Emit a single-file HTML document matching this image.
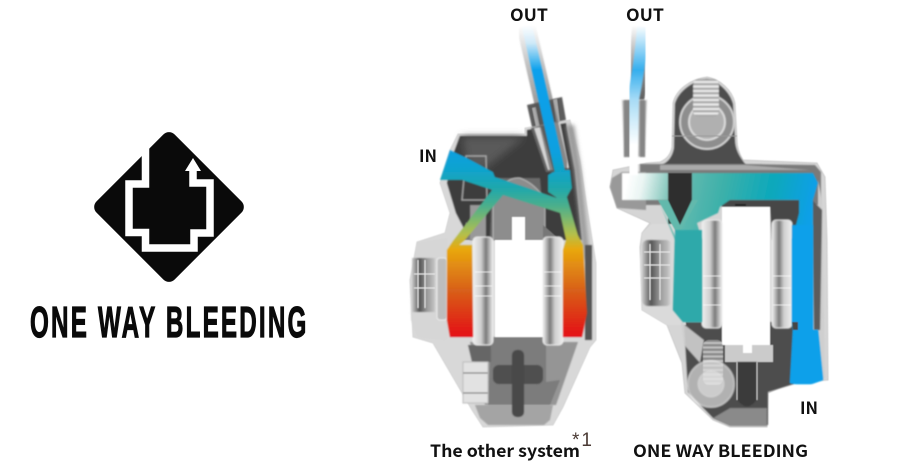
<!DOCTYPE html>
<html><head><meta charset="utf-8"><style>
html,body{margin:0;padding:0;background:#fff;width:900px;height:470px;overflow:hidden}
svg{display:block}
.l{font-family:"Noto Sans CJK KR","Liberation Sans",sans-serif;font-weight:700;fill:#111}
</style></head><body>
<svg width="900" height="470" viewBox="0 0 900 470" xmlns="http://www.w3.org/2000/svg">
<defs>
<filter id="b0" x="-5%" y="-5%" width="110%" height="110%"><feGaussianBlur stdDeviation="0.45"/></filter>
<filter id="b1" x="-20%" y="-20%" width="140%" height="140%"><feGaussianBlur stdDeviation="0.6"/></filter>
<filter id="b2" x="-30%" y="-30%" width="160%" height="160%"><feGaussianBlur stdDeviation="2"/></filter>
<filter id="b4" x="-30%" y="-30%" width="160%" height="160%"><feGaussianBlur stdDeviation="4"/></filter>
<linearGradient id="lc" gradientUnits="userSpaceOnUse" x1="0" y1="150" x2="0" y2="337">
<stop offset="0" stop-color="#0a9fe0"/><stop offset=".1" stop-color="#0fa3cf"/><stop offset=".2" stop-color="#1ea7ad"/><stop offset=".3" stop-color="#4caf8c"/><stop offset=".45" stop-color="#b4c04c"/><stop offset=".53" stop-color="#e8a80e"/><stop offset=".75" stop-color="#d8601a"/><stop offset="1" stop-color="#e40e12"/>
</linearGradient>
<linearGradient id="lt" gradientUnits="userSpaceOnUse" x1="0" y1="25" x2="0" y2="175">
<stop offset="0" stop-color="#fff"/><stop offset=".12" stop-color="#cfe9f8"/><stop offset=".3" stop-color="#0aa0ec"/><stop offset=".85" stop-color="#0aa0e0"/><stop offset="1" stop-color="#10a4c0"/>
</linearGradient>
<linearGradient id="rc" gradientUnits="userSpaceOnUse" x1="625" y1="190" x2="815" y2="230">
<stop offset="0" stop-color="#fff"/><stop offset=".08" stop-color="#eaf5f3"/><stop offset=".25" stop-color="#6cbcb0"/><stop offset=".5" stop-color="#3bb0aa"/><stop offset=".75" stop-color="#0aa8bc"/><stop offset=".95" stop-color="#0aa0e6"/><stop offset="1" stop-color="#0aa0ea"/>
</linearGradient>
<linearGradient id="rt" gradientUnits="userSpaceOnUse" x1="0" y1="25" x2="0" y2="175">
<stop offset="0" stop-color="#fff"/><stop offset=".3" stop-color="#35aeee"/><stop offset=".5" stop-color="#a8dcf6"/><stop offset=".8" stop-color="#fff"/><stop offset="1" stop-color="#fff"/>
</linearGradient>
<linearGradient id="shade" gradientUnits="userSpaceOnUse" x1="0" y1="25" x2="0" y2="105">
<stop offset="0" stop-color="#fff"/><stop offset=".5" stop-color="#999"/><stop offset="1" stop-color="#555"/>
</linearGradient>
<linearGradient id="pis" x1="0" y1="0" x2="1" y2="0">
<stop offset="0" stop-color="#eee"/><stop offset=".4" stop-color="#d0d0d0"/><stop offset=".65" stop-color="#7a7a7a"/><stop offset=".9" stop-color="#d0d0d0"/><stop offset="1" stop-color="#f0f0f0"/>
</linearGradient>
<linearGradient id="pis2" x1="1" y1="0" x2="0" y2="0">
<stop offset="0" stop-color="#eee"/><stop offset=".4" stop-color="#d0d0d0"/><stop offset=".65" stop-color="#7a7a7a"/><stop offset=".9" stop-color="#d0d0d0"/><stop offset="1" stop-color="#f0f0f0"/>
</linearGradient>
<linearGradient id="cyl" x1="0" y1="0" x2="1" y2="0">
<stop offset="0" stop-color="#ccc"/><stop offset=".3" stop-color="#555"/><stop offset=".6" stop-color="#999"/><stop offset=".85" stop-color="#bbb"/><stop offset="1" stop-color="#e0e0e0"/>
</linearGradient>
<pattern id="thr" width="6" height="4.5" patternUnits="userSpaceOnUse"><rect width="6" height="4.5" fill="#aaa"/><rect width="6" height="2" fill="#eee"/></pattern>
</defs>

<!-- Logo -->
<rect x="113.750" y="151.750" width="110.500" height="110.500" rx="8" transform="rotate(45 169 207)" fill="#0a0a0a"/>
<path d="M145.500 140V184H129V232.500H145.500V248H194V233H210V183H193V170" fill="none" stroke="#fff" stroke-width="7.500"/>
<path d="M193 158L201 171H185Z" fill="#fff"/>
<text transform="translate(30 337) scale(.55 1)" font-family="'Liberation Sans',sans-serif" font-weight="700" font-size="44" letter-spacing="4" fill="#0a0a0a" stroke="#0a0a0a" stroke-width="1.200">ONE WAY BLEEDING</text>

<!-- Left caliper -->
<g filter="url(#b0)">
<path d="M458 134H525V128L570 120L580 160L587 207L596 263V340L590 347L563 407L553 425L483 427L472 410L433 343L413 337L410 280L417 242L445 233L450 213L440 183L450 150Z" fill="#d8d8d8" stroke="#d5d5d5" stroke-width="1"/>
<path d="M460 136H527V130L566 123L575 170L582 240H470L456 213L447 183L454 152Z" fill="#3e3e3e" filter="url(#b1)"/>
<path d="M574 125L581 170L590 260L584 260L574 170L566 125Z" fill="#999" filter="url(#b2)"/>
<path d="M462 137H525L470 180Z" fill="#5a5a5a" filter="url(#b4)"/>
<path d="M466 156H486L487 200H462Z" fill="none" stroke="#aaa" stroke-width="1.500" filter="url(#b1)"/>
<path d="M492 178H540L545 238H490Z" fill="#6a6a6a" filter="url(#b1)"/>
<path d="M493 240V200Q505 176 520 178Q536 184 545 200V240" fill="#8d8d8d" stroke="#bbb" stroke-width="1" filter="url(#b1)"/>
<path d="M466 222L482 240H462ZM543 225L560 240H543Z" fill="#777"/>
<rect x="470" y="205" width="16" height="35" fill="#999" filter="url(#b1)"/>
<path d="M527 105L562 97L566 120L532 127Z" fill="#5c5c5c" filter="url(#b1)"/>
<path d="M532 108L536 127H540L536 107ZM553 100L556 122H560L557 99Z" fill="#aaa"/>
<path d="M531 128L546 172H570L559 122Z" fill="#666" filter="url(#b1)"/>
<path d="M534 128L548 170H553L541 127ZM553 123L563 168H569L560 122Z" fill="#d6d6d6" filter="url(#b1)"/>
<path d="M526 26L560 172" fill="none" stroke="url(#shade)" stroke-width="19" opacity=".6" filter="url(#b1)"/>
<path d="M527 26L560 172" fill="none" stroke="url(#lt)" stroke-width="10.500" filter="url(#b1)"/>

<!-- lower body -->
<path d="M433 338H590L563 405L553 424L484 426L472 410Z" fill="#d8d8d8"/>
<path d="M470 342H578L556 405H485Z" fill="#959595" filter="url(#b1)"/>
<path d="M491 337H546V382L560 380L550 405H488Z" fill="#7c7c7c" filter="url(#b1)"/>
<path d="M468 345H491V362H472Z" fill="#666" filter="url(#b1)"/>
<path d="M475 405H553L550 420L544 425H488L480 418Z" fill="#a4a4a4" filter="url(#b1)"/>
<rect x="493" y="365" width="50" height="19" rx="6" fill="#4f4f4f" filter="url(#b1)"/>
<rect x="512" y="350" width="12" height="67" rx="5" fill="#4a4a4a" filter="url(#b1)"/>
<rect x="463" y="362" width="25" height="41" fill="#e2e2e2" stroke="#bbb" filter="url(#b1)"/>
<rect x="463" y="372" width="25" height="2" fill="#aaa"/><rect x="463" y="392" width="25" height="2" fill="#aaa"/>

<!-- left cylinder -->
<path d="M417 243L447 238V340L418 337L411 320L410 280Z" fill="#d6d6d6" filter="url(#b1)"/>
<rect x="412" y="258" width="25" height="54" fill="url(#cyl)" filter="url(#b1)"/>
<path d="M414 274H435M414 288H435M418 260V308M425 260V308" stroke="#eee" fill="none"/>
<rect x="437" y="258" width="10" height="62" rx="3" fill="#bdbdbd" stroke="#eee" filter="url(#b1)"/>

<!-- window -->
<path d="M512 217H525V240H543V337H495V240H512Z" fill="#fff"/>
<!-- pistons -->
<rect x="473" y="237" width="20" height="108" rx="4" fill="url(#pis)" stroke="#eee" filter="url(#b1)"/>
<rect x="543" y="237" width="20" height="108" rx="4" fill="url(#pis2)" stroke="#eee" filter="url(#b1)"/>
<path d="M475 272H492M475 286H492M475 296H492M544 272H561M544 286H561M544 296H561" stroke="#fff" fill="none" opacity=".7"/>
<rect x="585" y="245" width="7" height="95" fill="#555" filter="url(#b1)"/>

<!-- fluid -->
<path d="M450 150L467 158L493 172L495 177L557 198L548 192V175L553 172L565 170H570L572 188L567 197L578 235L583 245L587 313L582 337H563V250L566 240L560 213L503 195L465 240L459 245H472L473 337H450L447 320V250L453 241L492 190L462 180L440 180Z" fill="url(#lc)" filter="url(#b1)"/>
</g>

<!-- Right caliper -->
<g filter="url(#b0)">
<path d="M707 77C690 79 676 90 673 103L672 147Q670 158 660 162L647 163L613 170L610 187L617 208L650 223L642 233L640 247L642 310L667 325L682 363L685 393L713 420L730 427H767L768 393L790 383L828 380L827 240L825 177L817 163L743 160Q737 150 737 140L735 103C732 90 720 79 707 77Z" fill="#d5d5d5" stroke="#ccc"/>
<path d="M707 79C692 81 678 92 675 104L674 148Q672 160 662 165L746 165Q735 152 735 140L733 104C730 92 718 81 707 79Z" fill="#4e4e4e" filter="url(#b1)"/>
<path d="M640 164L662 164H745L815 165L821 172V205H640Z" fill="#7a7a7a" filter="url(#b1)"/>
<path d="M660 165H745L810 170H660Z" fill="#aaa" filter="url(#b1)"/>
<path d="M818 180L822 200L825 378H818Z" fill="#cfcfcf" filter="url(#b1)"/>
<path d="M812 200L822 210L820 330H814Z" fill="#5c5c5c" filter="url(#b1)"/>
<path d="M622 172L612 178L610 187L617 208L646 210V172Z" fill="#999" filter="url(#b1)"/>
<rect x="668" y="173" width="24" height="52" fill="#2e2e2e"/>
<path d="M720 200H800V240H772L770 207H722Z" fill="#474747" filter="url(#b1)"/>

<!-- top bolt -->
<circle cx="707" cy="122" r="27" fill="#8e8e8e" stroke="#d4d4d4" stroke-width="2" filter="url(#b1)"/>
<circle cx="707" cy="122" r="18" fill="#b0b0b0" stroke="#ddd" stroke-width="2" filter="url(#b1)"/>
<rect x="693" y="79" width="26" height="38" rx="6" fill="url(#thr)" filter="url(#b1)"/>
<path d="M672 136H737" stroke="#999" fill="none"/>

<!-- tube -->
<path d="M643 27Q640 65 633 100" fill="none" stroke="url(#shade)" stroke-width="22" filter="url(#b1)"/>
<path d="M622 100L624 157H645L647 100Z" fill="#aaa" stroke="#e6e6e6" filter="url(#b1)"/>
<path d="M624 100H630V157H624ZM640 100H645V157H640Z" fill="#7c7c7c" opacity=".8" filter="url(#b1)"/>

<!-- lower body -->
<path d="M684 322H794V384L768 392V425H730L713 418L688 392Z" fill="#4e4e4e" filter="url(#b1)"/>
<path d="M713 418L730 408H767V426H730Z" fill="#8a8a8a" filter="url(#b1)"/>
<path d="M642 233L652 224H678L686 325H667L642 310L640 260Z" fill="#dadada"/>
<rect x="642" y="240" width="30" height="66" rx="6" fill="url(#cyl)" filter="url(#b1)"/>
<path d="M644 252H670M644 265H670M644 278H670M650 244V300M660 244V300" stroke="#eee" fill="none"/>
<path d="M722 207H770V345H722Z" fill="#fff"/>
<path d="M725 345H773V362H725Z" fill="#cbcbcb"/>
<rect x="743" y="345" width="9" height="8" fill="#fff"/>
<path d="M737 362H757V399Q747 414 737 399Z" fill="#3a3a3a" filter="url(#b1)"/>
<path d="M737 362V400M757 362V400" stroke="#ccc" fill="none"/>
<path d="M735 204H746V206H735Z" fill="#222"/>
<rect x="702" y="220" width="20" height="108" rx="4" fill="url(#pis)" stroke="#eee" filter="url(#b1)"/>
<rect x="772" y="220" width="20" height="108" rx="4" fill="url(#pis2)" stroke="#eee" filter="url(#b1)"/>
<path d="M703 276H721M703 288H721M703 305H721M773 276H791M773 288H791M773 305H791" stroke="#fff" fill="none" opacity=".7"/>
<!-- bottom bolt -->
<path d="M681 322L704 340L700 363L684 345Z" fill="#cfcfcf" opacity=".9" filter="url(#b1)"/>
<rect x="703" y="340" width="20" height="45" rx="6" fill="url(#thr)" opacity=".7"/>
<circle cx="711" cy="384" r="23" fill="#dcdcdc" opacity=".7" stroke="#eee" stroke-width="2" filter="url(#b1)"/>
<circle cx="711" cy="384" r="13" fill="#e8e8e8" opacity=".5" stroke="#f0f0f0" filter="url(#b1)"/>

<!-- fluid -->
<path d="M622 173H668V200H658L677 240L680 226L692 200V173H813L818 183L813 200V330H818L823 380L812 384H795L790 383L793 330L792 322V240L799 213V200H730L720 207L718 213L697 223L702 240V322H683L673 310L675 240L658 200H622Z" fill="url(#rc)" filter="url(#b1)"/>
<path d="M792 225H813V330H818L823 380L810 384H797L790 383L793 330L792 322Z" fill="#0aa0ea" filter="url(#b1)"/>
<path d="M658 200H668L680 225L692 200H698L680 232H676Z" fill="#62b9ac"/>
<path d="M675 230H702V322H683L673 310Z" fill="#2fa9aa" filter="url(#b1)"/>
<path d="M792 322H798V330H793Z" fill="#444"/>
<path d="M643 27Q640 65 633 100L632 175" fill="none" stroke="url(#rt)" stroke-width="12" filter="url(#b1)"/>
</g>

<text class="l" x="510" y="21" font-size="17" textLength="38" lengthAdjust="spacingAndGlyphs">OUT</text>
<text class="l" x="626" y="21" font-size="17" textLength="38" lengthAdjust="spacingAndGlyphs">OUT</text>
<text class="l" x="419" y="162" font-size="17" textLength="18" lengthAdjust="spacingAndGlyphs">IN</text>
<text class="l" x="800" y="414" font-size="17" textLength="18" lengthAdjust="spacingAndGlyphs">IN</text>
<text class="l" x="430" y="457" font-size="17" textLength="150" lengthAdjust="spacingAndGlyphs">The other system</text>
<text x="572" y="446" font-family="'Liberation Sans',sans-serif" font-size="19" fill="#4a3a34" textLength="20">*1</text>
<text class="l" x="633" y="457" font-size="17" textLength="175" lengthAdjust="spacingAndGlyphs">ONE WAY BLEEDING</text>
</svg>
</body></html>
